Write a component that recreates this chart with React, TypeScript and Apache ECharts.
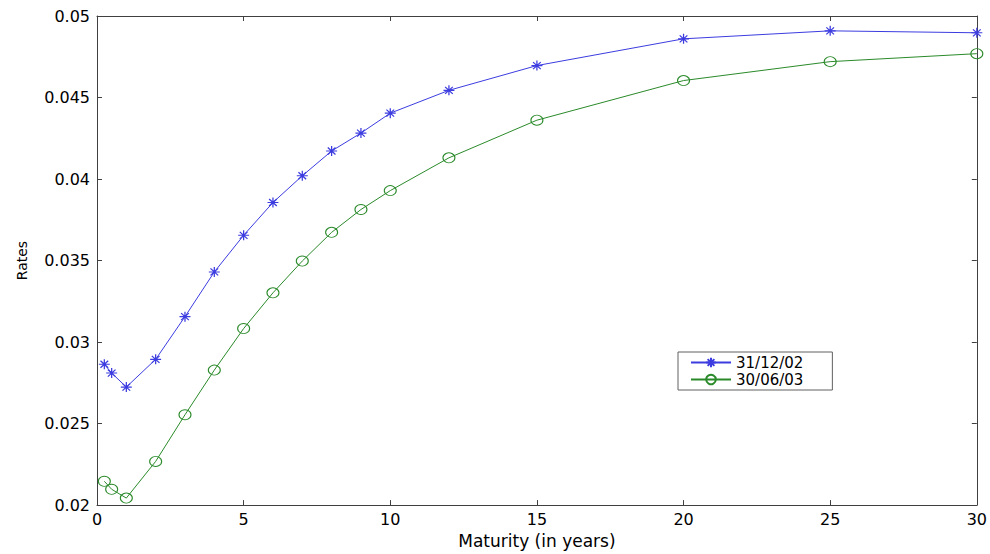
import React, { useEffect, useRef } from "react";
import * as echarts from "echarts";

const maturities = [0.25, 0.5, 1, 2, 3, 4, 5, 6, 7, 8, 9, 10, 12, 15, 20, 25, 30];
const rates311202 = [0.02864, 0.0281, 0.02724, 0.02894, 0.03156, 0.0343, 0.03655, 0.03856, 0.0402, 0.04172, 0.04282, 0.04404, 0.04544, 0.04696, 0.0486, 0.04909, 0.04897];
const rates300603 = [0.02146, 0.02097, 0.02043, 0.02268, 0.02554, 0.02828, 0.03083, 0.03302, 0.03497, 0.03673, 0.03813, 0.03929, 0.0413, 0.04361, 0.04604, 0.0472, 0.04769];
const seriesNames = ["31/12/02", "30/06/03"];
const xTitle = "Maturity (in years)";
const yTitle = "Rates";

const BLUE = "#3c3ce0";
const GREEN = "#2a8a2a";
const AXIS = "#404040";
const FONT = "DejaVu Sans";
const ASTERISK = "path://M5 0 L5 10 M0 5 L10 5 M1.5 1.5 L8.5 8.5 M8.5 1.5 L1.5 8.5";

export default function App() {
  const ref = useRef<HTMLDivElement>(null);
  useEffect(() => {
    if (!ref.current) return;
    const chart = echarts.init(ref.current, null, { renderer: "svg" });
    const axisCommon = {
      type: "value" as const,
      axisLine: { show: true, onZero: false, lineStyle: { color: AXIS, width: 1 } },
      axisTick: { show: true, inside: true, length: 5, lineStyle: { color: AXIS } },
      splitLine: { show: false },
    };
    chart.setOption({
      animation: false,
      backgroundColor: "#ffffff",
      grid: { left: 97, right: 13, top: 16, bottom: 45, containLabel: false },
      legend: {
        orient: "vertical",
        left: 678,
        top: 352,
        padding: [3, 29, 3, 12],
        itemGap: 2,
        itemWidth: 40,
        itemHeight: 12,
        borderColor: "#606060",
        borderWidth: 1,
        backgroundColor: "#ffffff",
        textStyle: { fontFamily: FONT, fontSize: 15, color: "#000" },
        data: seriesNames,
      },
      xAxis: [
        {
          ...axisCommon,
          position: "bottom",
          min: 0,
          max: 30,
          interval: 5,
          name: xTitle,
          nameLocation: "middle",
          nameGap: 23,
          nameTextStyle: { fontFamily: FONT, fontSize: 17, color: "#000" },
          axisLabel: { fontFamily: FONT, fontSize: 16, color: "#000", margin: 6 },
        },
        {
          ...axisCommon,
          position: "top",
          min: 0,
          max: 30,
          interval: 5,
          axisLabel: { show: false },
        },
      ],
      yAxis: [
        {
          ...axisCommon,
          position: "left",
          min: 0.02,
          max: 0.05,
          interval: 0.005,
          name: yTitle,
          nameLocation: "middle",
          nameGap: 68,
          nameRotate: 90,
          nameTextStyle: { fontFamily: FONT, fontSize: 14, color: "#000" },
          axisLabel: {
            fontFamily: FONT,
            fontSize: 16,
            color: "#000",
            margin: 7,
            formatter: (v: number) => parseFloat(v.toFixed(4)).toString(),
          },
        },
        {
          ...axisCommon,
          position: "right",
          min: 0.02,
          max: 0.05,
          interval: 0.005,
          axisLabel: { show: false },
        },
      ],
      series: [
        {
          name: seriesNames[0],
          type: "line",
          data: maturities.map((m, i) => [m, rates311202[i]]),
          symbol: ASTERISK,
          symbolSize: [11, 10],
          showAllSymbol: true,
          lineStyle: { color: BLUE, width: 1 },
          itemStyle: { color: BLUE, borderColor: BLUE, borderWidth: 1.2 },
          emphasis: { disabled: true },
        },
        {
          name: seriesNames[1],
          type: "line",
          data: maturities.map((m, i) => [m, rates300603[i]]),
          symbol: "circle",
          symbolSize: [12, 10],
          showAllSymbol: true,
          lineStyle: { color: GREEN, width: 1 },
          itemStyle: { color: "rgba(255,255,255,0)", borderColor: GREEN, borderWidth: 1 },
          emphasis: { disabled: true },
        },
      ],
    });
    return () => chart.dispose();
  }, []);
  return <div ref={ref} style={{ width: 990, height: 554, position: "absolute", left: 0, top: 0 }} />;
}
